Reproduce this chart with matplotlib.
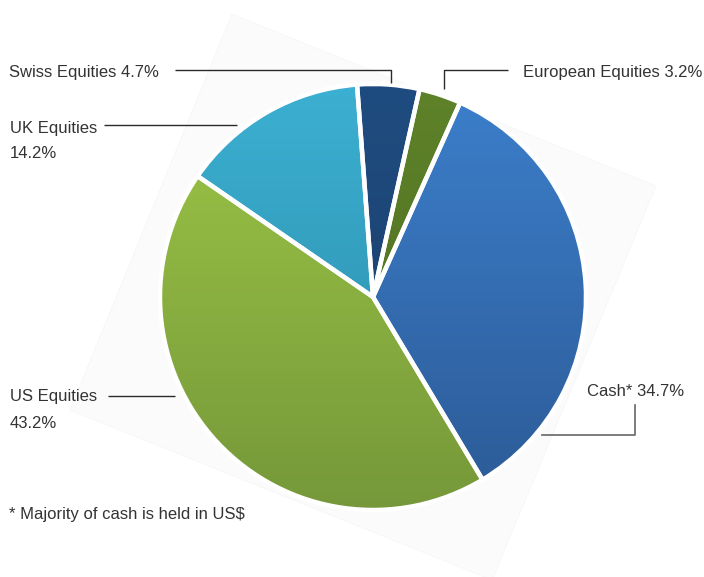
import matplotlib.pyplot as plt
import numpy as np
from matplotlib.colors import LinearSegmentedColormap
from matplotlib.patches import Polygon

# ---------------- data ----------------
labels = ['Swiss Equities', 'European Equities', 'Cash*', 'US Equities', 'UK Equities']
shares = [4.7, 3.2, 34.7, 43.2, 14.2]
top_colors = ['#1f4c80', '#5e8229', '#3c7fcb', '#9dc646', '#3cb0d2']
bottom_colors = ['#1b3d69', '#4b6a21', '#2c5a96', '#76983a', '#2a88a5']

W, H = 704, 577
cx, cy, r = 373, H - 297, 213

fig = plt.figure(figsize=(W / 100, H / 100), dpi=100)
ax = fig.add_axes([0, 0, 1, 1])

# faint tilted backdrop behind the pie
ax.add_patch(Polygon([(232, H - 14), (656, H - 186), (492, H - 580), (70, H - 410)],
                     closed=True, facecolor='#fbfbfb', edgecolor='#f3f7f7', lw=0.5, zorder=0))

wedges, _ = ax.pie(shares, startangle=94.3, counterclock=False, center=(cx, cy), radius=r,
                   wedgeprops=dict(edgecolor='white', linewidth=3.2),
                   frame=True)

# vertical gradient inside each wedge
yy = np.linspace(1, 0, 200).reshape(-1, 1) * np.ones((1, 2))
for w, c1, c2 in zip(wedges, top_colors, bottom_colors):
    cmap = LinearSegmentedColormap.from_list('g', [c2, c1])
    w.set_facecolor('none')
    im = ax.imshow(yy, cmap=cmap, extent=(cx - r, cx + r, cy - r, cy + r),
                   aspect='auto', zorder=1, interpolation='bilinear')
    im.set_clip_path(w)
    w.set_zorder(2)

ax.set_xlim(0, W)
ax.set_ylim(0, H)
ax.set_aspect('equal')
ax.axis('off')

# ---------------- labels and leader lines ----------------
tc = '#333333'
fs = 12
kw = dict(color=tc, fontsize=fs, family='Liberation Sans', va='center')
lk = dict(color='#2a2a2a', lw=1.0, solid_capstyle='butt')

ax.text(9, H - 73, f'{labels[0]} {shares[0]}%', ha='left', **kw)
ax.plot([175, 391, 391], [H - 70, H - 70, H - 83], **lk)

ax.text(523, H - 72, f'{labels[1]} {shares[1]}%', ha='left', **kw)
ax.plot([444, 444, 508], [H - 89, H - 70, H - 70], **lk)

ax.text(10, H - 128, labels[4], ha='left', **kw)
ax.text(10, H - 154, f'{shares[4]}%', ha='left', **kw)
ax.plot([104, 237], [H - 125, H - 125], **lk)

ax.text(10, H - 397, labels[3], ha='left', **kw)
ax.text(10, H - 423, f'{shares[3]}%', ha='left', **kw)
ax.plot([108, 175], [H - 396, H - 396], **lk)

ax.text(587, H - 391, f'{labels[2]} {shares[2]}%', ha='left', **kw)
ax.plot([635, 635, 542], [H - 405, H - 435, H - 435], color='#666666', lw=1.2)

ax.text(9, H - 514, '* Majority of cash is held in US$', ha='left', **kw)

fig.savefig('out.png', dpi=100, facecolor='white')
